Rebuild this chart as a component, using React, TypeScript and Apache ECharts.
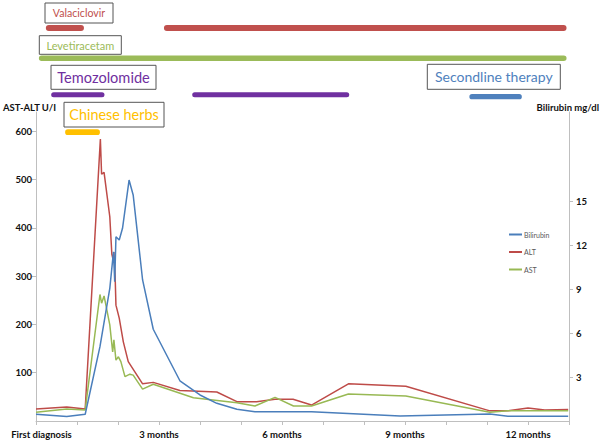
import React, { useEffect, useRef } from 'react';
import * as echarts from 'echarts';

// X axis (months since first diagnosis)
const xLabelMonths = [0, 3, 6, 9, 12];
const xLabels = ['First diagnosis', '3 months', '6 months', '9 months', '12 months'];
const leftTickValues = [100, 200, 300, 400, 500, 600];
const rightTickValues = [3, 6, 9, 12, 15];

// Bilirubin (mg/dl, right axis)
const bilirubinMonths = [0, 0.75, 1.2, 1.56, 1.8, 1.89, 1.92, 1.95, 2.03, 2.11, 2.27, 2.37, 2.6, 2.86, 3.51, 4.0, 4.41, 4.9, 5.34, 6.72, 8.88, 11.07, 11.51, 12.98];
const bilirubinValues = [0.46, 0.3, 0.46, 5.08, 9.07, 11.57, 9.52, 12.6, 12.37, 13.17, 16.47, 15.45, 9.64, 6.27, 2.75, 1.78, 1.21, 0.8, 0.64, 0.64, 0.34, 0.48, 0.32, 0.32];

// ALT (U/l, left axis)
const altMonths = [0, 0.75, 1.2, 1.57, 1.6, 1.66, 1.8, 1.85, 1.88, 1.9, 1.93, 1.95, 2.03, 2.13, 2.25, 2.6, 2.86, 3.51, 4.41, 4.9, 5.38, 5.83, 6.27, 6.72, 7.62, 9.02, 11.07, 11.51, 12.0, 12.41, 12.98];
const altValues = [25, 29, 25, 584, 511, 515, 423, 345, 335, 350, 300, 240, 213, 164, 123, 77, 80, 63, 60, 40, 40, 45, 45, 33, 77, 72, 21, 21, 27, 23, 24];

// AST (U/l, left axis)
const astMonths = [0, 0.75, 1.2, 1.56, 1.6, 1.66, 1.8, 1.87, 1.9, 1.95, 2.01, 2.07, 2.17, 2.29, 2.37, 2.6, 2.86, 3.84, 4.9, 5.34, 5.83, 6.28, 6.72, 7.62, 9.02, 11.07, 11.51, 12.98];
const astValues = [18, 25, 23, 262, 244, 259, 199, 143, 168, 126, 133, 123, 92, 97, 95, 66, 76, 48, 38, 31, 49, 31, 31, 56, 52, 18, 21, 21];

// Treatments (months)
const treatmentNames = ['Valaciclovir', 'Valaciclovir', 'Levetiracetam', 'Temozolomide', 'Temozolomide', 'Secondline therapy', 'Chinese herbs'];
const treatmentStart = [0.24, 3.12, 0.07, 0.37, 3.81, 10.57, 0.71];
const treatmentEnd = [1.17, 12.94, 12.94, 1.67, 7.64, 11.85, 1.56];

// Layout / style of treatment lanes (pixel rows in the top strip)
const laneY: Record<string, number> = {
  'Valaciclovir': 28,
  'Levetiracetam': 58.3,
  'Temozolomide': 94.8,
  'Secondline therapy': 96.7,
  'Chinese herbs': 132.2,
};
const laneH: Record<string, number> = {
  'Valaciclovir': 6,
  'Levetiracetam': 5.5,
  'Temozolomide': 5,
  'Secondline therapy': 5.3,
  'Chinese herbs': 5.7,
};
const treatColor: Record<string, string> = {
  'Valaciclovir': '#C0504D',
  'Levetiracetam': '#9BBB59',
  'Temozolomide': '#7030A0',
  'Secondline therapy': '#4F81BD',
  'Chinese herbs': '#FFC000',
};

const labelBoxes = [
  { name: 'Valaciclovir', x: 45, y: 3, w: 68, h: 20, size: 10.6 },
  { name: 'Levetiracetam', x: 39.3, y: 35.7, w: 82, h: 18.6, size: 11 },
  { name: 'Temozolomide', x: 51, y: 65.3, w: 105, h: 24, size: 14.6 },
  { name: 'Chinese herbs', x: 64, y: 102.3, w: 100, h: 24.7, size: 14.4 },
  { name: 'Secondline therapy', x: 427.3, y: 64.3, w: 133, h: 25, size: 14 },
];

const FONT = 'Lato, "Open Sans", sans-serif';

export default function App() {
  const ref = useRef<HTMLDivElement>(null);
  useEffect(() => {
    if (!ref.current) return;
    const chart = echarts.init(ref.current, undefined, { renderer: 'svg' });
    const labelMap: Record<number, string> = {};
    xLabelMonths.forEach((m, i) => (labelMap[m] = xLabels[i]));

    const graphics: any[] = [];
    labelBoxes.forEach((b) => {
      graphics.push({
        type: 'rect',
        shape: { x: b.x, y: b.y, width: b.w, height: b.h },
        style: { fill: '#fff', stroke: '#555', lineWidth: 1 },
        z: 10,
      });
      graphics.push({
        type: 'text',
        x: b.x + b.w / 2,
        y: b.y + b.h / 2,
        style: {
          text: b.name,
          fill: treatColor[b.name],
          font: `${b.size}px ${FONT}`,
          textAlign: 'center',
          textVerticalAlign: 'middle',
        },
        z: 11,
      });
    });
    graphics.push({
      type: 'text', x: 3, y: 107,
      style: { text: 'AST-ALT U/I', fill: '#111', font: `bold 9.5px ${FONT}`, textAlign: 'left', textVerticalAlign: 'middle' },
    });
    graphics.push({
      type: 'text', x: 599, y: 107,
      style: { text: 'Bilirubin mg/dl', fill: '#111', font: `bold 9.5px ${FONT}`, textAlign: 'right', textVerticalAlign: 'middle' },
    });

    const axisLabelStyle = { color: '#111', fontWeight: 'bold' as const, fontSize: 9.5, fontFamily: FONT };

    chart.setOption({
      animation: false,
      backgroundColor: '#fff',
      grid: [
        { left: 36, right: 31, top: 112, bottom: 25 },
        { left: 36, right: 31, top: 0, height: 140 },
      ],
      legend: {
        data: ['Bilirubin', 'ALT', 'AST'],
        orient: 'vertical',
        left: 504,
        top: 226,
        itemWidth: 13,
        itemHeight: 2,
        icon: 'rect',
        itemGap: 10.5,
        textStyle: { fontSize: 7, color: '#595959', fontFamily: FONT, padding: [0, 0, 0, -3] },
      },
      xAxis: [
        {
          type: 'value', gridIndex: 0, min: 0, max: 13, interval: 1,
          axisLine: { lineStyle: { color: '#BFBFBF' } },
          axisTick: { show: true, length: 4, lineStyle: { color: '#BFBFBF' } },
          axisLabel: {
            ...axisLabelStyle, margin: 8,
            customValues: xLabelMonths,
            formatter: (v: number) => (v === 0 ? `{f|${labelMap[v]}}` : labelMap[v] ?? ''),
            rich: { f: { ...axisLabelStyle, padding: [0, 0, 0, 11] } },
          },
          splitLine: { show: false },
        },
        { type: 'value', gridIndex: 1, min: 0, max: 13, show: false },
      ],
      yAxis: [
        {
          type: 'value', gridIndex: 0, min: 0, max: 640, interval: 100,
          axisLine: { show: true, lineStyle: { color: '#BFBFBF' } },
          axisTick: { show: true, length: 4, customValues: leftTickValues, lineStyle: { color: '#BFBFBF' } },
          axisLabel: { ...axisLabelStyle, margin: 4, customValues: leftTickValues },
          splitLine: { show: false },
        },
        {
          type: 'value', gridIndex: 0, min: 0, max: 21.12, interval: 3, position: 'right',
          axisLine: { show: true, lineStyle: { color: '#BFBFBF' } },
          axisTick: { show: true, length: 4, customValues: rightTickValues, lineStyle: { color: '#BFBFBF' } },
          axisLabel: { ...axisLabelStyle, margin: 7, customValues: rightTickValues },
          splitLine: { show: false },
        },
        { type: 'value', gridIndex: 1, min: 0, max: 140, inverse: true, show: false },
      ],
      graphic: graphics,
      series: [
        {
          name: 'Bilirubin', type: 'line', xAxisIndex: 0, yAxisIndex: 1,
          data: bilirubinMonths.map((m, i) => [m, bilirubinValues[i]]),
          symbol: 'none', color: '#4A7EBB', lineStyle: { width: 1.5, color: '#4A7EBB' }, z: 3,
        },
        {
          name: 'ALT', type: 'line', xAxisIndex: 0, yAxisIndex: 0,
          data: altMonths.map((m, i) => [m, altValues[i]]),
          symbol: 'none', color: '#BE4B48', lineStyle: { width: 1.5, color: '#BE4B48' }, z: 2,
        },
        {
          name: 'AST', type: 'line', xAxisIndex: 0, yAxisIndex: 0,
          data: astMonths.map((m, i) => [m, astValues[i]]),
          symbol: 'none', color: '#98B954', lineStyle: { width: 1.5, color: '#98B954' }, z: 2,
        },
        {
          name: 'Treatments', type: 'custom', xAxisIndex: 1, yAxisIndex: 2,
          data: treatmentNames.map((n, i) => [treatmentStart[i], treatmentEnd[i], laneY[n], i]),
          encode: { x: [0, 1], y: 2 },
          clip: false,
          renderItem: (params: any, api: any) => {
            const idx = api.value(3);
            const name = treatmentNames[idx];
            const s = api.coord([api.value(0), api.value(2)]);
            const e = api.coord([api.value(1), api.value(2)]);
            const h = laneH[name];
            return {
              type: 'rect',
              shape: { x: s[0], y: s[1] - h / 2, width: e[0] - s[0], height: h, r: h / 2 },
              style: { fill: treatColor[name] },
            };
          },
        },
      ],
    });
    return () => chart.dispose();
  }, []);
  return <div ref={ref} style={{ position: 'fixed', left: 0, top: 0, width: 600, height: 446 }} />;
}
